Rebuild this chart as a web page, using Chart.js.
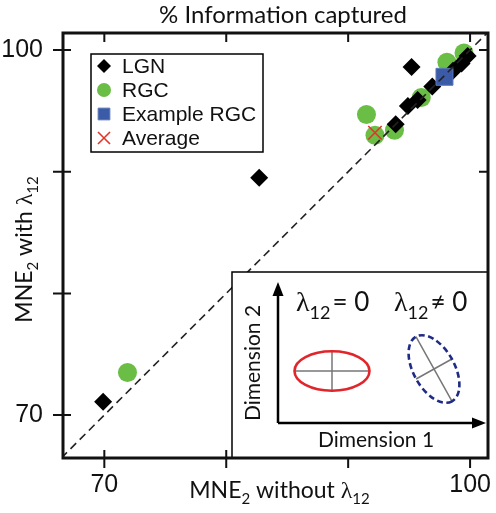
<!DOCTYPE html>
<html><head><meta charset="utf-8">
<script src="https://cdn.jsdelivr.net/npm/chart.js@4/dist/chart.umd.min.js"></script>
<style>html,body{margin:0;padding:0;background:#fff;overflow:hidden;width:496px;height:513px}#wrap{position:absolute;left:0;top:0;width:496px;height:513px}canvas{display:block}</style>
</head><body><div id="wrap"><canvas id="c"></canvas></div>
<script>
// ---- data ----
const lgnX = [69.9, 82.7, 95.2, 93.9, 94.9, 95.7, 96.9, 98.6, 99.3, 99.8];
const lgnY = [71.1, 89.5, 98.6, 93.9, 95.4, 95.9, 97.0, 98.3, 98.9, 99.5];
const rgcX = [71.9, 91.5, 92.2, 93.8, 96.0, 98.1, 99.5];
const rgcY = [73.5, 94.7, 93.0, 93.4, 96.1, 99.0, 99.75];
const exampleX = [97.9];
const exampleY = [97.8];
const avgX = [92.2];
const avgY = [93.2];
const seriesNames = ['LGN', 'RGC', 'Example RGC', 'Average'];
const xRange = [66.61, 101.47];
const yRange = [66.47, 101.4];
const majorTicks = [70, 80, 90, 100];
const labeledTicks = [70, 100];
const titleText = '% Information captured';

const pts = (xs, ys) => xs.map((x, i) => ({x, y: ys[i]}));

const LATO = 'Lato, "Liberation Sans", sans-serif';
const ARIAL = '"Liberation Sans", Arial, sans-serif';
const SERIF = '"Liberation Serif", "DejaVu Serif", serif';

function drawRich(ctx, segs, cx, baseY) {
  let w = 0;
  segs.forEach(s => { ctx.font = s.font; s.w = ctx.measureText(s.t).width; w += s.w; });
  let x = cx - w / 2;
  ctx.textBaseline = 'alphabetic';
  ctx.textAlign = 'left';
  segs.forEach(s => { ctx.font = s.font; ctx.fillText(s.t, x, baseY + (s.dy || 0)); x += s.w; });
}
function axisTitleSegs(mid) {
  return [
    {t: 'MNE', font: '23px ' + LATO},
    {t: '2', font: '15px ' + LATO, dy: 6},
    {t: mid, font: '23px ' + LATO},
    {t: 'λ', font: '24px ' + SERIF},
    {t: '12', font: '15px ' + LATO, dy: 6}
  ];
}
function noPad(s) { s.paddingLeft = 0; s.paddingRight = 0; s.paddingTop = 0; s.paddingBottom = 0; }

const decor = {
  id: 'decor',
  afterDatasetsDraw(chart) {
    const {ctx, chartArea: a, scales} = chart;
    const L = a.left, T = a.top, R = a.right, B = a.bottom;
    ctx.save();
    // ---- title ----
    ctx.fillStyle = '#111'; ctx.font = '24px ' + LATO; ctx.textAlign = 'center'; ctx.textBaseline = 'alphabetic';
    ctx.fillText(titleText, L + 220, 23);
    // ---- inset schematic ----
    const iL = R - 256, iT = B - 186;
    ctx.fillStyle = '#fff';
    ctx.fillRect(iL, iT, R - iL, B - iT);
    ctx.strokeStyle = '#000'; ctx.lineWidth = 1.5;
    ctx.strokeRect(iL, iT, R - iL, B - iT);
    // arrows
    const ox = iL + 46, oy = iT + 151;
    ctx.lineWidth = 2.5;
    ctx.beginPath(); ctx.moveTo(ox, oy); ctx.lineTo(ox, iT + 20); ctx.moveTo(ox, oy); ctx.lineTo(iL + 243, oy); ctx.stroke();
    ctx.fillStyle = '#000';
    ctx.beginPath(); ctx.moveTo(ox, iT + 10); ctx.lineTo(ox - 5.5, iT + 24); ctx.lineTo(ox + 5.5, iT + 24); ctx.closePath(); ctx.fill();
    ctx.beginPath(); ctx.moveTo(iL + 254, oy); ctx.lineTo(iL + 240, oy - 5.5); ctx.lineTo(iL + 240, oy + 5.5); ctx.closePath(); ctx.fill();
    // labels
    ctx.fillStyle = '#111';
    ctx.font = '21px ' + LATO; ctx.textAlign = 'center'; ctx.textBaseline = 'middle';
    ctx.fillText('Dimension 1', iL + 144, iT + 168);
    ctx.save(); ctx.translate(iL + 21, iT + 91); ctx.rotate(-Math.PI / 2); ctx.fillText('Dimension 2', 0, 0); ctx.restore();
    function lam(x, y, rest) {
      ctx.textAlign = 'left'; ctx.textBaseline = 'alphabetic';
      ctx.font = '28px ' + SERIF; ctx.fillText('λ', x, y); let w = ctx.measureText('λ').width;
      ctx.font = '18px ' + LATO; ctx.fillText('12', x + w, y + 8); w += ctx.measureText('12').width;
      ctx.font = '26px ' + LATO; ctx.fillText(rest, x + w + 2, y);
    }
    lam(iL + 64, iT + 39, '= 0');
    lam(iL + 162, iT + 39, '≠ 0');
    // ellipses
    const ax = (cx, cy, rx, ry, rot) => {
      ctx.save(); ctx.translate(cx, cy); ctx.rotate(rot);
      ctx.strokeStyle = '#777'; ctx.lineWidth = 1.5; ctx.setLineDash([]);
      ctx.beginPath(); ctx.moveTo(-rx, 0); ctx.lineTo(rx, 0); ctx.moveTo(0, -ry); ctx.lineTo(0, ry); ctx.stroke();
      ctx.restore();
    };
    ax(iL + 100, iT + 99, 37.5, 19.7, 0);
    ctx.strokeStyle = '#e0262b'; ctx.lineWidth = 2.6;
    ctx.beginPath(); ctx.ellipse(iL + 100, iT + 99, 37.5, 19.7, 0, 0, Math.PI * 2); ctx.stroke();
    ax(iL + 202, iT + 97, 37, 20.5, 60.8 * Math.PI / 180);
    ctx.strokeStyle = '#1f2c85'; ctx.lineWidth = 2.6; ctx.setLineDash([6, 3.5]);
    ctx.beginPath(); ctx.ellipse(iL + 202, iT + 97, 37, 20.5, 60.8 * Math.PI / 180, 0, Math.PI * 2); ctx.stroke();
    ctx.setLineDash([]);

    // ---- legend ----
    const lx = L + 28, ly = T + 21;
    ctx.fillStyle = '#fff'; ctx.fillRect(lx, ly, 172, 98);
    ctx.strokeStyle = '#000'; ctx.lineWidth = 1.5; ctx.strokeRect(lx, ly, 172, 98);
    const legendRadius = [7, 7, 8.3, 8.5];
    seriesNames.forEach((name, i) => {
      const ds = chart.data.datasets[i];
      const y = T + 33 + i * 24;
      ctx.fillStyle = ds.pointBackgroundColor; ctx.strokeStyle = ds.pointBorderColor;
      ctx.lineWidth = ds.pointBorderWidth;
      Chart.helpers.drawPoint(ctx, {pointStyle: ds.pointStyle, radius: legendRadius[i], borderWidth: ds.pointBorderWidth, rotation: 0}, L + 41, y);
      ctx.fillStyle = '#111'; ctx.font = '21px ' + ARIAL; ctx.textAlign = 'left'; ctx.textBaseline = 'middle';
      ctx.fillText(name, L + 59, y + 1);
    });

    // ---- frame and ticks ----
    ctx.strokeStyle = '#111'; ctx.lineWidth = 3;
    ctx.strokeRect(L, T, R - L, B - T);
    ctx.lineWidth = 2;
    ctx.beginPath();
    majorTicks.forEach(v => {
      const px = scales.x.getPixelForValue(v), py = scales.y.getPixelForValue(v);
      ctx.moveTo(px, B + 10); ctx.lineTo(px, px > iL ? B : B - 8);
      ctx.moveTo(px, T); ctx.lineTo(px, T + 9);
      ctx.moveTo(L - 10, py); ctx.lineTo(L + 8, py);
      if (py < iT) { ctx.moveTo(R, py); ctx.lineTo(R - 9, py); }
    });
    ctx.stroke();

    // ---- axis titles ----
    ctx.fillStyle = '#111';
    drawRich(ctx, axisTitleSegs(' without '), (L + R) / 2 + 4, 498);
    ctx.save(); ctx.translate(31.5, (T + B) / 2 + 4); ctx.rotate(-Math.PI / 2);
    drawRich(ctx, axisTitleSegs(' with '), 0, 0);
    ctx.restore();
    ctx.restore();
  }
};

const diag = [{x: Math.min(xRange[0], yRange[0]), y: Math.min(xRange[0], yRange[0])}, {x: Math.max(xRange[1], yRange[1]), y: Math.max(xRange[1], yRange[1])}];

new Chart(document.getElementById('c'), {
  type: 'scatter',
  data: {
    datasets: [
      {label: seriesNames[0], data: pts(lgnX, lgnY), pointStyle: 'rectRot', pointRadius: 9, pointBackgroundColor: '#000', pointBorderColor: '#000', pointBorderWidth: 0, order: 3},
      {label: seriesNames[1], data: pts(rgcX, rgcY), pointStyle: 'circle', pointRadius: 9.5, pointBackgroundColor: '#6abd45', pointBorderColor: '#6abd45', pointBorderWidth: 0, order: 4},
      {label: seriesNames[2], data: pts(exampleX, exampleY), pointStyle: 'rect', pointRadius: 12, pointBackgroundColor: '#3b5ba8', pointBorderColor: '#5b78b8', pointBorderWidth: 1, order: 2},
      {label: seriesNames[3], data: pts(avgX, avgY), pointStyle: 'crossRot', pointRadius: 9.5, pointBackgroundColor: '#e2352b', pointBorderColor: '#e2352b', pointBorderWidth: 1.6, order: 1},
      {type: 'line', label: 'identity', data: diag, borderColor: '#222', borderWidth: 1.6, borderDash: [8, 5], pointRadius: 0, fill: false, order: 0}
    ]
  },
  options: {
    responsive: true, maintainAspectRatio: false, animation: false,
    layout: {autoPadding: false, padding: {top: 33, right: 8, left: 0, bottom: 0}},
    plugins: {
      legend: {display: false}, tooltip: {enabled: false}, title: {display: false}
    },
    scales: {
      x: {type: 'linear', min: xRange[0], max: xRange[1],
        afterBuildTicks: s => { s.ticks = majorTicks.map(v => ({value: v})); },
        afterFit: s => { s.height = 55; noPad(s); },
        grid: {display: false, drawTicks: false}, border: {display: false},
        ticks: {color: '#111', font: {family: ARIAL, size: 25}, padding: 12, maxRotation: 0,
          callback: v => labeledTicks.includes(v) ? String(v) : ''}},
      y: {type: 'linear', min: yRange[0], max: yRange[1],
        afterBuildTicks: s => { s.ticks = majorTicks.map(v => ({value: v})); },
        afterFit: s => { s.width = 63; noPad(s); },
        grid: {display: false, drawTicks: false}, border: {display: false},
        ticks: {color: '#111', font: {family: ARIAL, size: 25}, padding: 20,
          callback: v => labeledTicks.includes(v) ? String(v) : ''}}
    }
  },
  plugins: [decor]
});
</script></body></html>
